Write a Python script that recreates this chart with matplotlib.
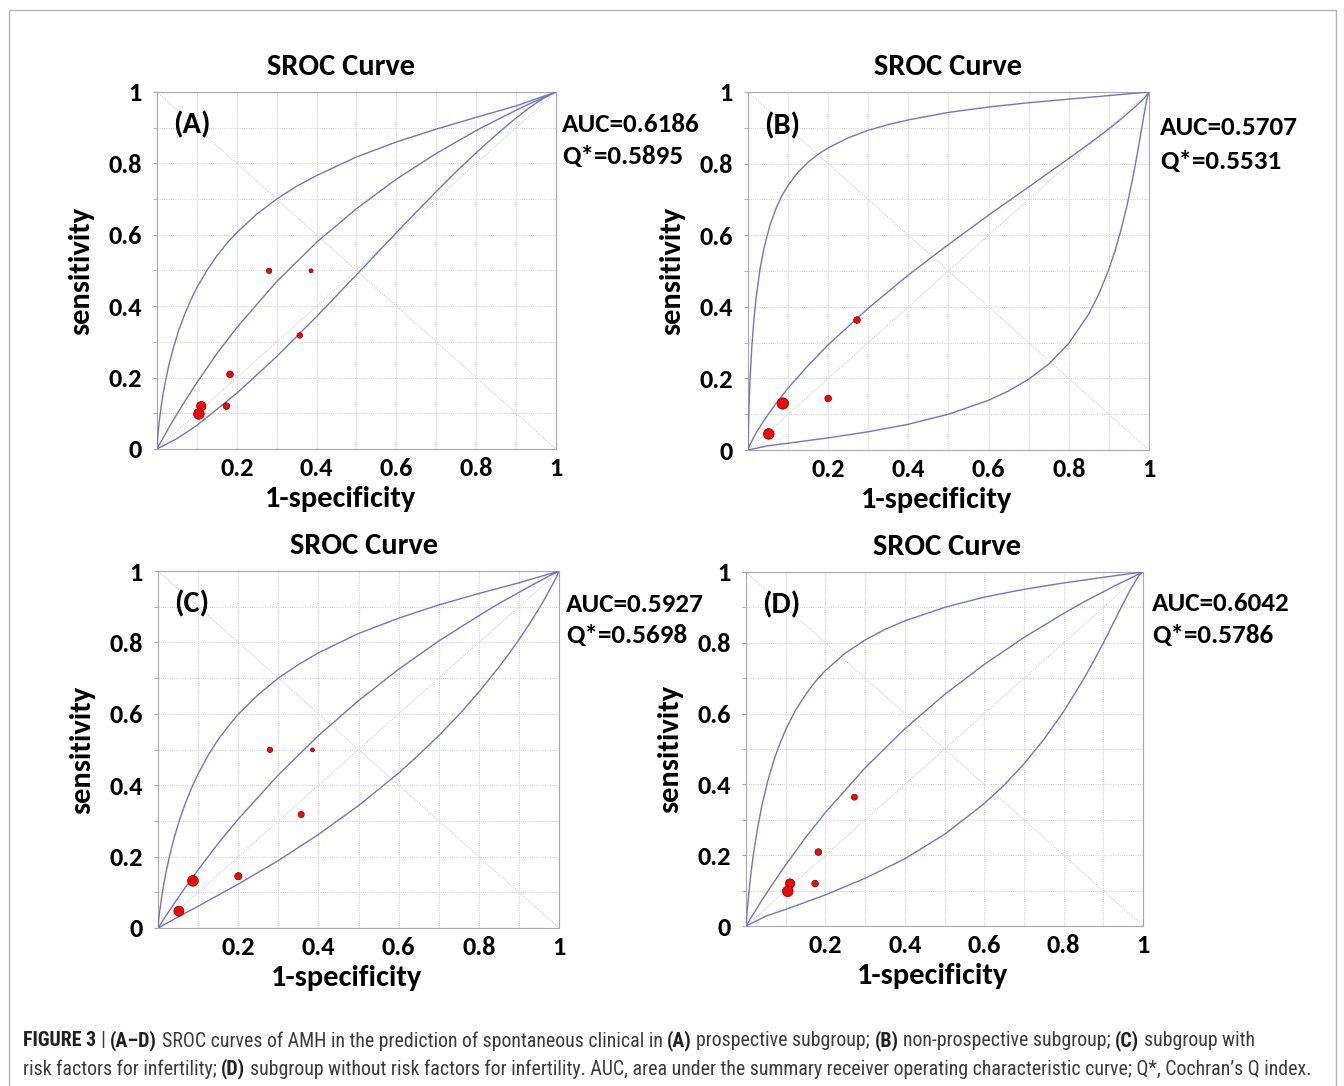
import matplotlib
matplotlib.use("Agg")
import matplotlib.pyplot as plt
from matplotlib.patches import Rectangle

fpr_upper = [0, 0.0025, 0.005, 0.01, 0.015, 0.02, 0.03, 0.04, 0.055, 0.07, 0.085, 0.1, 0.125,
             0.15, 0.175, 0.2, 0.25, 0.3, 0.35, 0.4, 0.5, 0.6, 0.7, 0.8, 0.9, 1]
fpr_sroc = [0, 0.005, 0.01, 0.02, 0.04, 0.07, 0.1, 0.15, 0.2, 0.3, 0.4, 0.5,
            0.6, 0.7, 0.8, 0.85, 0.9, 0.93, 0.96, 0.98, 0.99, 1]
fpr_lower = [0, 0.05, 0.1, 0.2, 0.3, 0.4, 0.5, 0.6, 0.65, 0.7, 0.75, 0.8, 0.85, 0.875, 0.9,
             0.915, 0.93, 0.945, 0.96, 0.97, 0.98, 0.985, 0.99, 0.995, 1]

# (A) prospective subgroup
a_upper = [0, 0.043, 0.071, 0.115, 0.152, 0.183, 0.236, 0.279, 0.334, 0.379, 0.418, 0.452, 0.500,
           0.541, 0.576, 0.606, 0.658, 0.700, 0.736, 0.766, 0.818, 0.860, 0.896, 0.929, 0.961, 1]
a_sroc = [0, 0.010, 0.020, 0.040, 0.079, 0.134, 0.186, 0.267, 0.340, 0.469, 0.579, 0.673,
          0.756, 0.828, 0.892, 0.921, 0.949, 0.965, 0.980, 0.990, 0.995, 1]
a_lower = [0, 0.029, 0.066, 0.156, 0.259, 0.371, 0.488, 0.606, 0.664, 0.721, 0.777, 0.830, 0.880,
           0.904, 0.927, 0.940, 0.953, 0.965, 0.976, 0.983, 0.989, 0.993, 0.995, 0.998, 1]
a_fpr = [0.281, 0.386, 0.358, 0.183, 0.174, 0.111, 0.105]
a_tpr = [0.499, 0.499, 0.318, 0.209, 0.120, 0.120, 0.098]
a_size = [15, 8, 16, 23, 23, 45, 59]

# (B) non-prospective subgroup
b_upper = [0, 0.120, 0.192, 0.294, 0.366, 0.422, 0.505, 0.564, 0.628, 0.675, 0.711, 0.739, 0.776,
           0.804, 0.826, 0.844, 0.872, 0.893, 0.909, 0.922, 0.943, 0.958, 0.970, 0.980, 0.990, 1]
b_sroc = [0, 0.015, 0.026, 0.047, 0.083, 0.130, 0.173, 0.236, 0.294, 0.396, 0.489, 0.574,
          0.656, 0.735, 0.814, 0.855, 0.897, 0.924, 0.953, 0.974, 0.985, 1]
b_lower = [0, 0.012, 0.019, 0.034, 0.051, 0.072, 0.100, 0.139, 0.165, 0.198, 0.240, 0.298, 0.380,
           0.436, 0.505, 0.555, 0.614, 0.682, 0.762, 0.822, 0.887, 0.920, 0.952, 0.981, 1]
b_fpr = [0.272, 0.200, 0.087, 0.052]
b_tpr = [0.363, 0.144, 0.130, 0.045]
b_size = [23, 23, 67, 59]

# (C) subgroup with risk factors
c_upper = [0, 0.032, 0.055, 0.094, 0.128, 0.157, 0.208, 0.252, 0.308, 0.355, 0.396, 0.432, 0.484,
           0.528, 0.565, 0.599, 0.654, 0.700, 0.738, 0.771, 0.825, 0.868, 0.905, 0.937, 0.967, 1]
c_sroc = [0, 0.009, 0.017, 0.035, 0.068, 0.117, 0.163, 0.237, 0.305, 0.429, 0.539, 0.637,
          0.725, 0.804, 0.875, 0.909, 0.940, 0.959, 0.977, 0.989, 0.994, 1]
c_lower = [0, 0.031, 0.061, 0.123, 0.189, 0.262, 0.343, 0.434, 0.485, 0.539, 0.597, 0.661, 0.731,
           0.768, 0.808, 0.833, 0.859, 0.886, 0.914, 0.934, 0.955, 0.965, 0.976, 0.988, 1]
c_fpr = [0.279, 0.385, 0.357, 0.200, 0.087, 0.052]
c_tpr = [0.499, 0.499, 0.318, 0.145, 0.132, 0.047]
c_size = [15, 8, 19, 27, 59, 52]

# (D) subgroup without risk factors
d_upper = [0, 0.040, 0.071, 0.126, 0.173, 0.214, 0.283, 0.341, 0.411, 0.468, 0.515, 0.555, 0.610,
           0.654, 0.691, 0.722, 0.771, 0.808, 0.838, 0.862, 0.900, 0.929, 0.951, 0.969, 0.985, 1]
d_sroc = [0, 0.009, 0.019, 0.037, 0.073, 0.124, 0.173, 0.250, 0.321, 0.447, 0.557, 0.654,
          0.739, 0.815, 0.883, 0.915, 0.944, 0.962, 0.978, 0.989, 0.995, 1]
d_lower = [0, 0.028, 0.047, 0.088, 0.135, 0.190, 0.259, 0.346, 0.398, 0.458, 0.527, 0.606, 0.697,
           0.747, 0.800, 0.833, 0.867, 0.900, 0.933, 0.954, 0.973, 0.982, 0.990, 0.996, 1]
d_fpr = [0.273, 0.182, 0.174, 0.111, 0.105]
d_tpr = [0.364, 0.209, 0.120, 0.120, 0.098]
d_size = [19, 23, 23, 45, 59]

panel_labels = ["(A)", "(B)", "(C)", "(D)"]
auc_values = ["0.6186", "0.5707", "0.5927", "0.6042"]
q_values = ["0.5895", "0.5531", "0.5698", "0.5786"]

W, H = 1344, 1086
plt.rcParams["font.family"] = ["Carlito", "DejaVu Sans"]
plt.rcParams["font.weight"] = "bold"

fig = plt.figure(figsize=(W / 100, H / 100), dpi=100)

rects = [[0.1168, 0.5866, 0.2969, 0.3287],
         [0.5565, 0.5856, 0.2984, 0.3297],
         [0.1176, 0.1455, 0.2984, 0.3287],
         [0.5551, 0.1473, 0.2954, 0.3260]]
auc_pos = [(1.015, 0.908, 0.818), (1.027, 0.900, 0.807),
           (1.017, 0.907, 0.818), (1.023, 0.912, 0.822)]
title_x = [0.46, 0.50, 0.514, 0.506]
xlabel_x = [0.46, 0.47, 0.47, 0.47]

panels = [(a_upper, a_sroc, a_lower, a_fpr, a_tpr, a_size),
          (b_upper, b_sroc, b_lower, b_fpr, b_tpr, b_size),
          (c_upper, c_sroc, c_lower, c_fpr, c_tpr, c_size),
          (d_upper, d_sroc, d_lower, d_fpr, d_tpr, d_size)]

curve_col = "#7373c6"
grid_col = "#d4d4d4"
spine_col = "#a8a8a8"

for i, (up, mid, low, px, py, ps) in enumerate(panels):
    ax = fig.add_axes(rects[i])
    ax.set_xlim(0, 1)
    ax.set_ylim(0, 1)

    ax.set_xticks([0.2, 0.4, 0.6, 0.8, 1.0])
    ax.set_xticklabels(["0.2", "0.4", "0.6", "0.8", "1"])
    ax.set_xticks([0.1, 0.3, 0.5, 0.7, 0.9], minor=True)
    ax.set_yticks([0, 0.2, 0.4, 0.6, 0.8, 1.0])
    ax.set_yticklabels(["0", "0.2", "0.4", "0.6", "0.8", "1"])
    ax.set_yticks([0.1, 0.3, 0.5, 0.7, 0.9], minor=True)
    ax.grid(which="both", color=grid_col, lw=0.8, ls=(0, (1, 1)))
    ax.set_axisbelow(True)
    ax.tick_params(axis="x", which="both", length=0, labelsize=19, pad=6)
    ax.tick_params(axis="y", which="both", length=3, color=spine_col, labelsize=19, pad=8)
    for s in ax.spines.values():
        s.set_color(spine_col)

    # reference diagonals
    ax.plot([0, 1], [0, 1], color="#d2d2d2", lw=0.8, ls=(0, (1, 1)), zorder=1)
    ax.plot([0, 1], [1, 0], color="#d2d2d2", lw=0.8, ls=(0, (1, 1)), zorder=1)

    # SROC curve and its confidence band
    ax.plot(fpr_upper, up, color=curve_col, lw=1.0, zorder=3)
    ax.plot(fpr_sroc, mid, color=curve_col, lw=1.0, zorder=3)
    ax.plot(fpr_lower, low, color=curve_col, lw=1.0, zorder=3)

    ax.scatter(px, py, s=ps, c="#ff0000", edgecolors="#700000", linewidths=0.5, zorder=5)

    ax.set_title("SROC Curve", fontsize=22, fontweight="bold", pad=12, x=title_x[i])
    ax.set_xlabel("1-specificity", fontsize=22, fontweight="bold", labelpad=4, x=xlabel_x[i])
    ax.set_ylabel("sensitivity", fontsize=22, fontweight="bold", labelpad=10)

    ax.text(0.04, 0.907, panel_labels[i], transform=ax.transAxes, fontsize=22,
            va="center", ha="left")
    xa, ya, yq = auc_pos[i]
    ax.text(xa, ya, "AUC=" + auc_values[i], transform=ax.transAxes, fontsize=19.5, va="center")
    ax.text(xa, yq, "Q*=" + q_values[i], transform=ax.transAxes, fontsize=19.5, va="center")

# frame round the figure
fig.patches.append(Rectangle((9 / W, -0.01), (1336 - 9) / W, 1 - 10 / H + 0.01,
                             transform=fig.transFigure, fill=False, ec="#b4b4b4", lw=1.0))

# caption, bold and plain pieces placed one after another
cap_font = "Roboto Condensed"
cap_size = 14.3
renderer = fig.canvas.get_renderer()


def text_width(s, bold):
    t = fig.text(0, 0, s, fontsize=cap_size, family=cap_font,
                 fontweight="bold" if bold else "normal")
    w = t.get_window_extent(renderer).width
    t.remove()
    return w


def rich_line(x, y, parts):
    for s, bold in parts:
        sw = text_width("a a", bold) - text_width("aa", bold)
        if s.startswith(" "):
            x += sw
        t = fig.text(x / W, 1 - y / H, s.strip(), fontsize=cap_size, family=cap_font,
                     fontweight="bold" if bold else "normal",
                     color="#231f20" if bold else "#3a3a3a", va="center", ha="left")
        x += t.get_window_extent(renderer).width
        if s.endswith(" "):
            x += sw


line1 = [("FIGURE 3", True), (" | ", False), ("(A–D)", True),
         (" SROC curves of AMH in the prediction of spontaneous clinical in ", False),
         ("(A)", True), (" prospective subgroup; ", False), ("(B)", True),
         (" non-prospective subgroup; ", False), ("(C)", True), (" subgroup with", False)]
line2 = [("risk factors for infertility; ", False), ("(D)", True),
         (" subgroup without risk factors for infertility. AUC, area under the summary "
          "receiver operating characteristic curve; Q*, Cochran’s Q index.", False)]
rich_line(23, 1041, line1)
rich_line(23, 1069, line2)

fig.savefig("out.png", dpi=100)
